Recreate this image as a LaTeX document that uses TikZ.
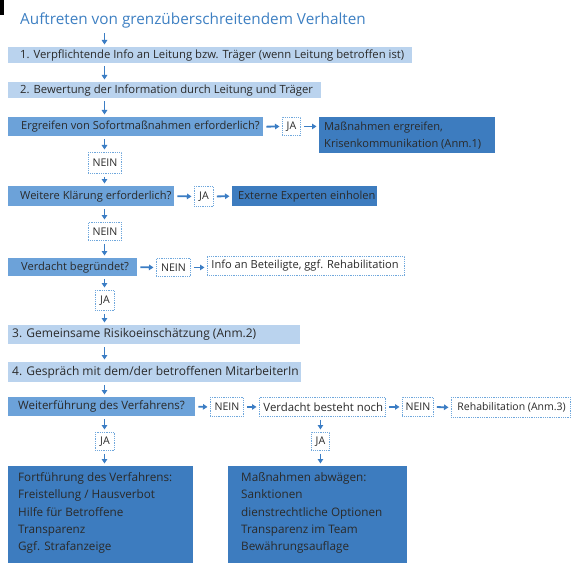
\documentclass[tikz,border=0pt]{standalone}
\usepackage{fontspec}
\setmainfont{Open Sans}
\usetikzlibrary{arrows.meta}
\definecolor{lightb}{HTML}{BAD3EE}
\definecolor{medb}{HTML}{6CA2D9}
\definecolor{darkb}{HTML}{3D7CBF}
\definecolor{arrc}{HTML}{3B7DC4}
\definecolor{dotc}{HTML}{6FA7DC}
\definecolor{titc}{HTML}{3D7FC2}
\definecolor{txtc}{HTML}{2A2A2A}
\newcommand\lbox[2]{\makebox[#1bp][l]{#2}}
\tikzset{
  base/.style={anchor=north west, inner ysep=0pt, text=txtc, font=\fontsize{11.1bp}{13bp}\selectfont},
  lightbox/.style={base, fill=lightb},
  medbox/.style={base, fill=medb},
  darkbox/.style={base, fill=darkb},
  dotbox/.style={anchor=north west, inner sep=0pt, fill=white, draw=dotc, line width=0.9bp,
    dash pattern=on 0.9bp off 0.9bp, text=txtc, font=\fontsize{10.6bp}{12bp}\selectfont},
  arr/.style={-{Triangle[width=5.5bp,length=4.5bp]}, line width=1.8bp, draw=arrc,
    shorten <=3bp, shorten >=2.5bp},
}
\begin{document}
\begin{tikzpicture}[x=1bp,y=-1bp]
\useasboundingbox (0,0) rectangle (573,563);
\fill[black] (0,0) rectangle (4,15);
\coordinate (col) at (104.5,0);
\node[anchor=west, inner sep=0pt, text=titc, font=\fontsize{15.3bp}{18bp}\selectfont] (title) at (20,20.5) {Auftreten von grenzüberschreitendem Verhalten};
% main column
\node[lightbox, inner xsep=12bp, minimum height=16bp, font=\fontsize{11.3bp}{13bp}\selectfont] (b1) at (8,47) {\lbox{380}{1. Verpflichtende Info an Leitung bzw. Träger (wenn Leitung betroffen ist)}};
\node[lightbox, inner xsep=12bp, minimum height=16bp, font=\fontsize{11.3bp}{13bp}\selectfont] (b2) at (8,82) {\lbox{289}{2. Bewertung der Information durch Leitung und Träger}};
\node[medbox, inner xsep=13bp, minimum height=19bp] (b3) at (8,117) {\lbox{229}{Ergreifen von Sofortmaßnahmen erforderlich?}};
\node[dotbox, minimum width=18bp, minimum height=18bp] (ja1) at (282,117) {JA};
\node[darkbox, inner xsep=5bp, inner ysep=0pt, minimum height=36bp, align=left, font=\fontsize{11.1bp}{17bp}\selectfont] (m1) at (319,117) {\lbox{166}{Maßnahmen ergreifen,}\\\lbox{166}{Krisenkommunikation (Anm.1)}};
\node[dotbox, minimum width=33bp, minimum height=21bp] (n1) at (88,152) {NEIN};
\node[medbox, inner xsep=12bp, minimum height=20bp] (b4) at (8,186) {\lbox{142}{Weitere Klärung erforderlich?}};
\node[dotbox, minimum width=19bp, minimum height=20bp] (ja2) at (194,186) {JA};
\node[darkbox, inner xsep=6bp, minimum height=20bp] (e1) at (232,186) {\lbox{133}{Externe Experten einholen}};
\node[dotbox, minimum width=33bp, minimum height=18bp] (n2) at (88,222) {NEIN};
\node[medbox, inner xsep=13bp, minimum height=18bp] (b5) at (8,258) {\lbox{103}{Verdacht begründet?}};
\node[dotbox, minimum width=34bp, minimum height=18bp] (n3) at (156,258) {NEIN};
\node[dotbox, inner xsep=4bp, minimum height=19bp, font=\fontsize{11.1bp}{13bp}\selectfont] (i1) at (207,256) {\lbox{189}{Info an Beteiligte, ggf. Rehabilitation}};
\node[dotbox, minimum width=19bp, minimum height=20bp] (ja3) at (95,290) {JA};
\node[lightbox, inner xsep=4bp, minimum height=19bp, font=\fontsize{12bp}{14bp}\selectfont] (b6) at (8,325) {\lbox{284}{3. Gemeinsame Risikoeinschätzung (Anm.2)}};
\node[lightbox, inner xsep=4bp, minimum height=20bp, font=\fontsize{12bp}{14bp}\selectfont] (b7) at (8,362) {\lbox{285}{4. Gespräch mit dem/der betroffenen MitarbeiterIn}};
\node[medbox, inner xsep=10bp, minimum height=19bp, font=\fontsize{11.5bp}{13bp}\selectfont] (b8) at (8,397) {\lbox{167}{Weiterführung des Verfahrens?}};
\node[dotbox, minimum width=33bp, minimum height=19bp] (n4) at (210,397) {NEIN};
\node[dotbox, inner xsep=4bp, minimum height=19bp, font=\fontsize{11.4bp}{13bp}\selectfont] (v1) at (259,397) {\lbox{118}{Verdacht besteht noch}};
\node[dotbox, minimum width=31bp, minimum height=19bp] (n5) at (402,397) {NEIN};
\node[dotbox, inner xsep=6bp, minimum height=20bp, font=\fontsize{10.5bp}{13bp}\selectfont] (r1) at (451,397) {\lbox{107}{Rehabilitation (Anm.3)}};
\node[dotbox, minimum width=19bp, minimum height=18bp] (ja4) at (95,432) {JA};
\node[dotbox, minimum width=18bp, minimum height=18bp] (ja5) at (311,432) {JA};
\node[darkbox, inner xsep=10bp, inner ysep=6.5bp, font=\fontsize{11.7bp}{17.2bp}\selectfont] (f1) at (8,466) {\parbox[t][92bp][t]{165bp}{Fortführung des Verfahrens:\\Freistellung / Hausverbot\\Hilfe für Betroffene\\Transparenz\\Ggf. Strafanzeige}};
\node[darkbox, inner xsep=13bp, inner ysep=6.5bp, font=\fontsize{11.7bp}{17.2bp}\selectfont] (f2) at (228,466) {\parbox[t][92bp][t]{153bp}{Maßnahmen abwägen:\\Sanktionen\\dienstrechtliche Optionen\\Transparenz im Team\\Bewährungsauflage}};
% vertical arrows
\draw[arr, shorten <=5bp] (title.south -| col) -- (b1.north -| col);
\draw[arr] (b1.south -| col) -- (b2.north -| col);
\draw[arr] (b2.south -| col) -- (b3.north -| col);
\draw[arr] (b3.south -| col) -- (n1.north -| col);
\draw[arr] (n1.south -| col) -- (b4.north -| col);
\draw[arr] (b4.south -| col) -- (n2.north -| col);
\draw[arr] (n2.south -| col) -- (b5.north -| col);
\draw[arr] (b5.south -| col) -- (ja3.north -| col);
\draw[arr] (ja3.south -| col) -- (b6.north -| col);
\draw[arr] (b6.south -| col) -- (b7.north -| col);
\draw[arr] (b7.south -| col) -- (b8.north -| col);
\draw[arr] (b8.south -| col) -- (ja4.north -| col);
\draw[arr] (ja4.south -| col) -- (f1.north -| col);
\draw[arr] (v1.south -| ja5.north) -- (ja5.north);
\draw[arr] (ja5.south) -- (ja5.south |- f2.north);
% horizontal arrows
\draw[arr] (b3.east) -- (ja1.west);
\draw[arr] (ja1.east) -- (ja1.east -| m1.west);
\draw[arr] (b4.east) -- (ja2.west);
\draw[arr] (ja2.east) -- (e1.west);
\draw[arr] (b5.east) -- (n3.west);
\draw[arr] (n3.east) -- (n3.east -| i1.west);
\draw[arr] (b8.east) -- (n4.west);
\draw[arr] (n4.east) -- (v1.west);
\draw[arr] (v1.east) -- (n5.west);
\draw[arr] (n5.east) -- (r1.west);
\end{tikzpicture}
\end{document}
